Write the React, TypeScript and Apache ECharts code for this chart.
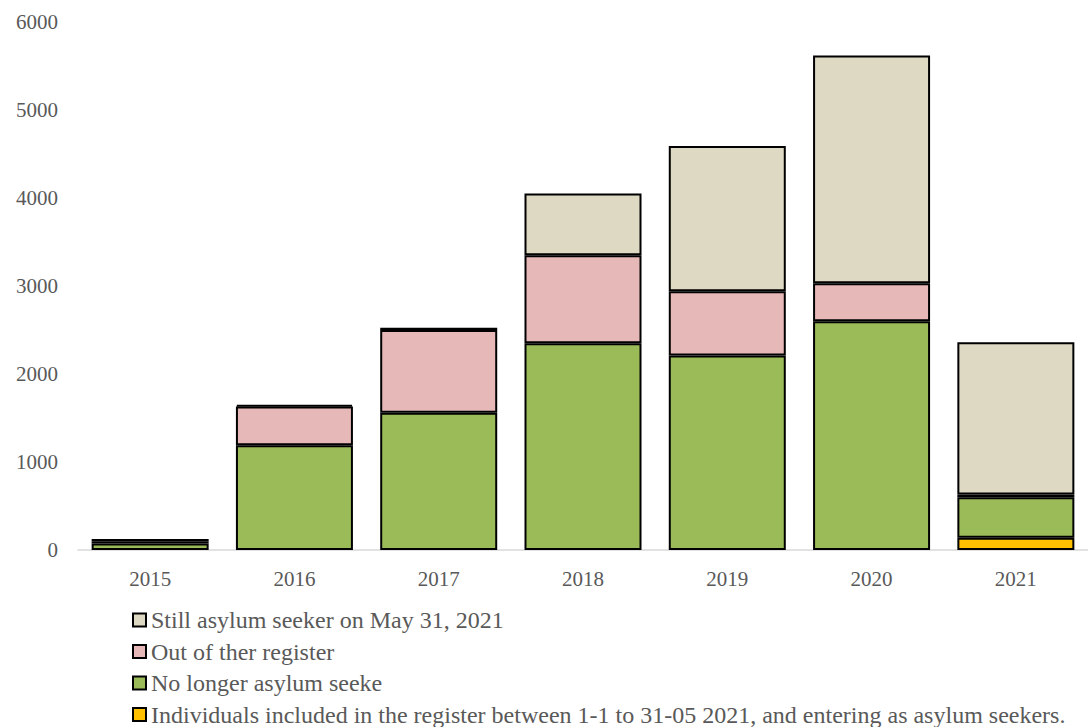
import React, { useEffect, useRef } from "react";
import * as echarts from "echarts";

const years = ["2015", "2016", "2017", "2018", "2019", "2020", "2021"];
const yTicks = [0, 1000, 2000, 3000, 4000, 5000, 6000];

const individuals = [null, null, null, null, null, null, 140];
const noLonger = [75, 1190, 1560, 2350, 2210, 2600, 460];
const outOfRegister = [25, 440, 940, 1000, 730, 430, 30];
const stillSeeker = [25, 20, 25, 700, 1650, 2590, 1730];

const names = [
  "Individuals included in the register between 1-1 to 31-05 2021, and entering as asylum seekers.",
  "No longer asylum seeke",
  "Out of ther register",
  "Still asylum seeker on May 31, 2021",
];
const colors = ["#FFC000", "#9BBB59", "#E6B9B8", "#DDD9C3"];
const seriesData = [individuals, noLonger, outOfRegister, stillSeeker];

const FONT = "'Liberation Serif', 'Times New Roman', serif";

export default function App() {
  const ref = useRef<HTMLDivElement>(null);
  useEffect(() => {
    if (!ref.current) return;
    const chart = echarts.init(ref.current, null, { renderer: "svg" });
    chart.setOption({
      animation: false,
      backgroundColor: "#ffffff",
      grid: { left: 78, right: -9, top: 22, bottom: 177, containLabel: false },
      legend: {
        orient: "vertical",
        left: 132,
        top: 608,
        icon: "rect",
        itemWidth: 13,
        itemHeight: 13,
        itemGap: 7.5,
        padding: 0,
        data: [names[3], names[2], names[1], names[0]],
        textStyle: { fontFamily: FONT, fontSize: 24, color: "#595959" },
        itemStyle: { borderColor: "#000", borderWidth: 2 },
      },
      xAxis: {
        type: "category",
        data: years,
        axisTick: { show: false },
        axisLine: { lineStyle: { color: "#D9D9D9", width: 1.5 } },
        axisLabel: { fontFamily: FONT, fontSize: 21, color: "#595959", margin: 18 },
      },
      yAxis: {
        type: "value",
        min: yTicks[0],
        max: yTicks[yTicks.length - 1],
        interval: 1000,
        splitLine: { show: false },
        axisLine: { show: false },
        axisTick: { show: false },
        axisLabel: {
          fontFamily: FONT,
          fontSize: 21,
          color: "#595959",
          margin: 20,
          formatter: (v: number) => String(v),
        },
      },
      series: seriesData.map((d, i) => ({
        name: names[i],
        type: "bar",
        stack: "total",
        barWidth: 117,
        data: d,
        itemStyle: { color: colors[i], borderColor: "#000", borderWidth: 2 },
      })),
    });
    return () => chart.dispose();
  }, []);
  return (
    <div
      ref={ref}
      style={{ position: "fixed", left: 0, top: 0, width: 1088, height: 727 }}
    />
  );
}
